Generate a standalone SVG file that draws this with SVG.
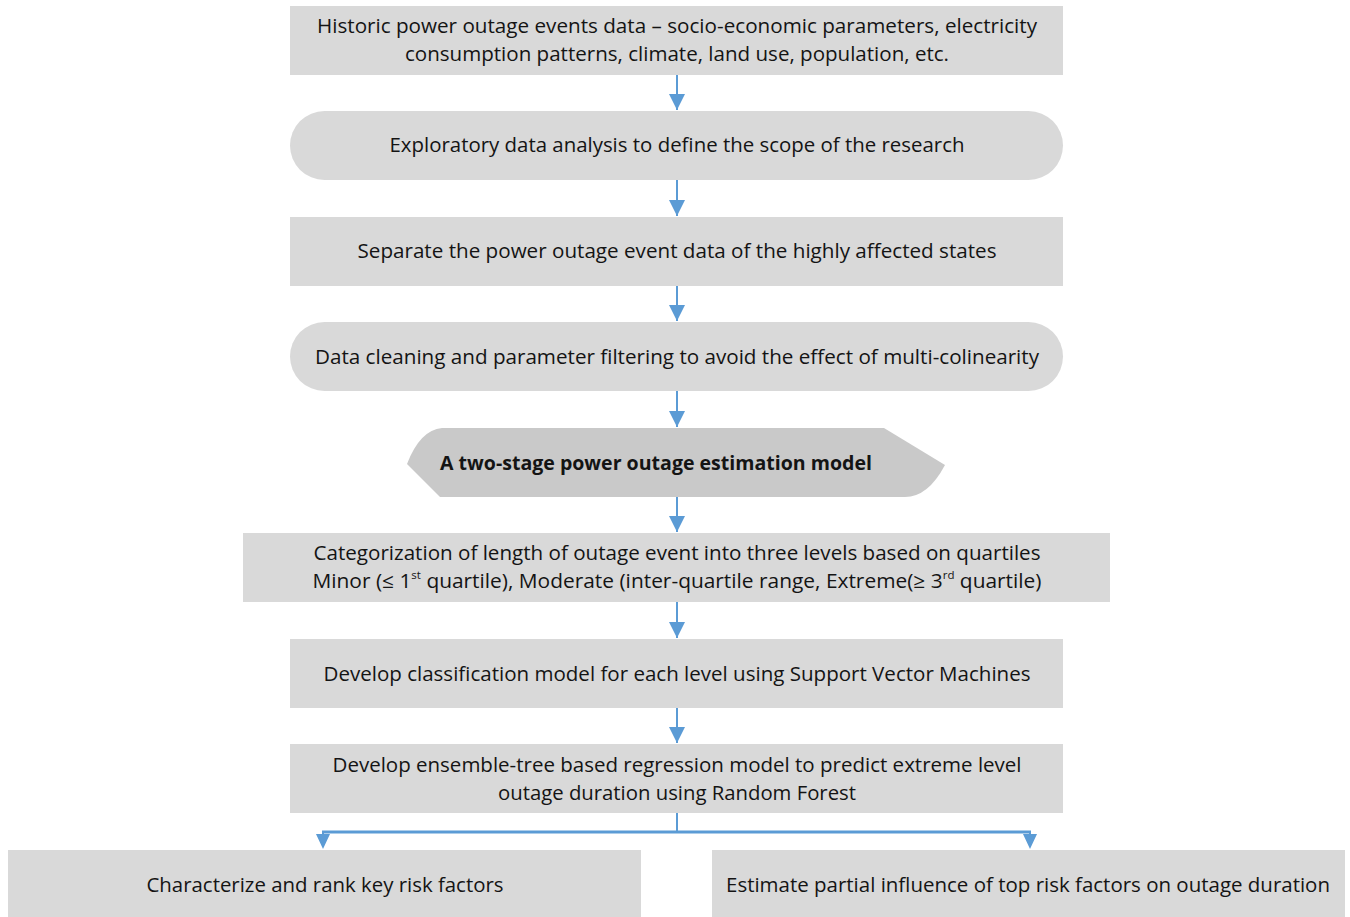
<svg xmlns="http://www.w3.org/2000/svg" width="1350" height="917" viewBox="0 0 1350 917">
<style>
.box{fill:#d9d9d9;}
.t{font-family:"Open Sans","Liberation Sans",sans-serif;font-size:20px;fill:#141414;text-anchor:middle;}
.b{font-weight:bold;}
.c{stroke:#5b9bd5;stroke-width:2;fill:none;}
.h{fill:#5b9bd5;}
</style>
<defs>
<marker id="ahL" viewBox="0 0 10 10" refX="10" refY="5" markerWidth="8" markerHeight="8" orient="auto">
<path d="M0,0 L10,5 L0,10 z" fill="#5b9bd5"/>
</marker>
</defs>
<rect width="1350" height="917" fill="#ffffff"/>
<g id="connectors">
<line class="c" x1="677" y1="75" x2="677" y2="110" marker-end="url(#ahL)"/>
<line class="c" x1="677" y1="180" x2="677" y2="216" marker-end="url(#ahL)"/>
<line class="c" x1="677" y1="286" x2="677" y2="321" marker-end="url(#ahL)"/>
<line class="c" x1="677" y1="391" x2="677" y2="427" marker-end="url(#ahL)"/>
<line class="c" x1="677" y1="497" x2="677" y2="532" marker-end="url(#ahL)"/>
<line class="c" x1="677" y1="602" x2="677" y2="638" marker-end="url(#ahL)"/>
<line class="c" x1="677" y1="708" x2="677" y2="743" marker-end="url(#ahL)"/>
<line class="c" x1="677" y1="813" x2="677" y2="832"/>
<line class="c" x1="322" y1="832" x2="1031" y2="832" style="stroke-width:3"/>
<line class="c" x1="323" y1="831" x2="323" y2="838"/>
<line class="c" x1="1030" y1="831" x2="1030" y2="838"/>
<path class="h" d="M316,834 L330,834 L323,849 Z"/>
<path class="h" d="M1023,834 L1037,834 L1030,849 Z"/>
</g>
<g id="n1">
<rect class="box" x="290" y="6" width="773" height="69"/>
<text class="t" x="677" y="33" textLength="720" lengthAdjust="spacingAndGlyphs">Historic power outage events data – socio-economic parameters, electricity</text>
<text class="t" x="677" y="61" textLength="544" lengthAdjust="spacingAndGlyphs">consumption patterns, climate, land use, population, etc.</text>
</g>
<g id="n2">
<rect class="box" x="290" y="111" width="773" height="69" rx="34.5"/>
<text class="t" x="677" y="152" textLength="575" lengthAdjust="spacingAndGlyphs">Exploratory data analysis to define the scope of the research</text>
</g>
<g id="n3">
<rect class="box" x="290" y="217" width="773" height="69"/>
<text class="t" x="677" y="258" textLength="639" lengthAdjust="spacingAndGlyphs">Separate the power outage event data of the highly affected states</text>
</g>
<g id="n4">
<rect class="box" x="290" y="322" width="773" height="69" rx="34.5"/>
<text class="t" x="677" y="364" textLength="724" lengthAdjust="spacingAndGlyphs">Data cleaning and parameter filtering to avoid the effect of multi-colinearity</text>
</g>
<g id="n5">
<path d="M442,428 L884,428 L945,465 Q928,497 905,497 L440,497 L407,464 Q420,430 442,428 Z" fill="#c9c9c9"/>
<text class="t b" x="656" y="470" textLength="432" lengthAdjust="spacingAndGlyphs">A two-stage power outage estimation model</text>
</g>
<g id="n6">
<rect class="box" x="243" y="533" width="867" height="69"/>
<text class="t" x="677" y="560" textLength="727" lengthAdjust="spacingAndGlyphs">Categorization of length of outage event into three levels based on quartiles</text>
<text class="t" x="677" y="588" textLength="729" lengthAdjust="spacingAndGlyphs">Minor (≤ 1<tspan font-size="11" dy="-9">st</tspan><tspan dy="9"> quartile), Moderate (inter-quartile range, Extreme(≥ 3</tspan><tspan font-size="11" dy="-9">rd</tspan><tspan dy="9"> quartile)</tspan></text>
</g>
<g id="n7">
<rect class="box" x="290" y="639" width="773" height="69"/>
<text class="t" x="677" y="681" textLength="707" lengthAdjust="spacingAndGlyphs">Develop classification model for each level using Support Vector Machines</text>
</g>
<g id="n8">
<rect class="box" x="290" y="744" width="773" height="69"/>
<text class="t" x="677" y="772" textLength="689" lengthAdjust="spacingAndGlyphs">Develop ensemble-tree based regression model to predict extreme level</text>
<text class="t" x="677" y="800" textLength="358" lengthAdjust="spacingAndGlyphs">outage duration using Random Forest</text>
</g>
<g id="n9">
<rect class="box" x="8" y="850" width="633" height="67"/>
<text class="t" x="325" y="892" textLength="357" lengthAdjust="spacingAndGlyphs">Characterize and rank key risk factors</text>
</g>
<g id="n10">
<rect class="box" x="712" y="850" width="633" height="67"/>
<text class="t" x="1028" y="892" textLength="604" lengthAdjust="spacingAndGlyphs">Estimate partial influence of top risk factors on outage duration</text>
</g>
</svg>
